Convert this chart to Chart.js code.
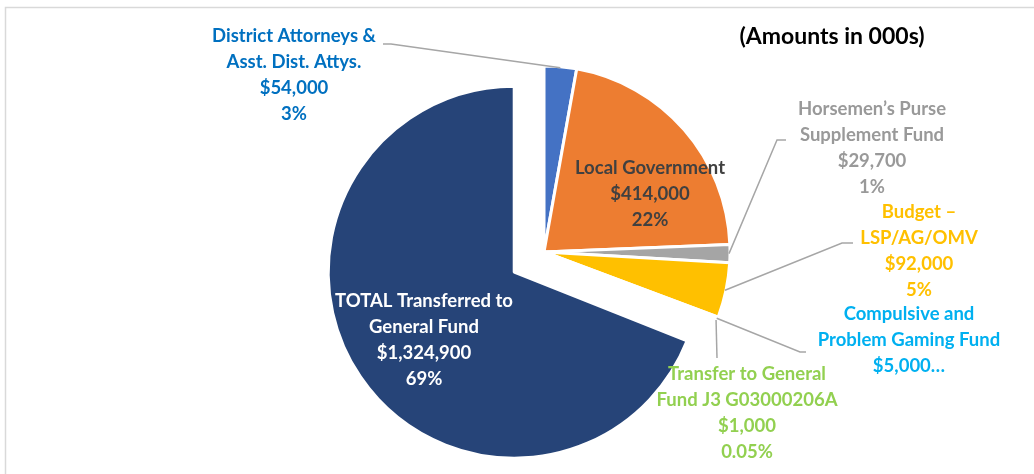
<!DOCTYPE html>
<html>
<head>
    <meta charset='UTF-8'>
    <title>Distribution of Gaming Revenue</title>
    <style>
        html, body { margin: 0; padding: 0; background: #fff; }
        #chart-container { position: relative; width: 1034px; height: 474px; }
    </style>
</head>
<body>
    <script src="https://cdn.jsdelivr.net/npm/chart.js@4.4.1/dist/chart.umd.min.js"></script>
    <div id="chart-container">
        <canvas id="chart" width="1034" height="474"></canvas>
    </div>

    <script>
        // data (amounts in 000s)
        let categories = [
            "District Attorneys & Asst. Dist. Attys.",
            "Local Government",
            "Horsemen\u2019s Purse Supplement Fund",
            "Budget \u2013 LSP/AG/OMV",
            "Compulsive and Problem Gaming Fund",
            "Transfer to General Fund J3 G03000206A",
            "TOTAL Transferred to General Fund"
        ];
        let amounts = [54000, 414000, 29700, 92000, 5000, 1000, 1324900];
        let pctLabels = ["3%", "22%", "1%", "5%", "", "0.05%", "69%"];
        let explode = [0, 0, 0, 0, 0, 0, 36];
        let sliceColors = ["#4472c4", "#ed7d31", "#a5a5a5", "#ffc000", "#5b9bd5", "#70ad47", "#264478"];
        let labelColors = ["#0070c0", "#404040", "#999999", "#ffc000", "#00b0f0", "#92d050", "#ffffff"];

        function money(v) {
            return "$" + v.toLocaleString("en-US");
        }

        // label text lines for each slice
        let labelLines = [
            ["District Attorneys &", "Asst. Dist. Attys.", money(amounts[0]), pctLabels[0]],
            ["Local Government", money(amounts[1]), pctLabels[1]],
            ["Horsemen\u2019s Purse", "Supplement Fund", money(amounts[2]), pctLabels[2]],
            ["Budget \u2013", "LSP/AG/OMV", money(amounts[3]), pctLabels[3]],
            ["Compulsive and", "Problem Gaming Fund", money(amounts[4]) + "\u2026"],
            ["Transfer to General", "Fund J3 G03000206A", money(amounts[5]), pctLabels[5]],
            ["TOTAL Transferred to", "General Fund", money(amounts[6]), pctLabels[6]]
        ];

        // where each label block sits (center x, first line y) and its leader elbow
        let labelPos = [
            { x: 294, y: 36, elbow: [[383, 44], [391, 44]] },
            { x: 650, y: 168 },
            { x: 872, y: 109, elbow: [[786, 140], [777, 140]] },
            { x: 919, y: 212, elbow: [[853, 243], [842, 243]] },
            { x: 909, y: 314, elbow: [[806, 352], [800, 352]] },
            { x: 747, y: 374, elbow: [[717, 358], [717, 358]] },
            { x: 424, y: 301 }
        ];

        const FONT = "bold 18.5px Lato";
        const LINE_H = 26;

        const labelPlugin = {
            id: "labels",
            // pull exploded slices out along their mid angle without growing them
            afterDatasetUpdate(chart) {
                let arcs = chart.getDatasetMeta(0).data;
                arcs.forEach(function(a, i) {
                    if (!explode[i]) return;
                    let mid = (a.startAngle + a.endAngle) / 2;
                    a.x += Math.cos(mid) * explode[i];
                    a.y += Math.sin(mid) * explode[i];
                });
            },
            beforeDraw(chart) {
                let ctx = chart.ctx;
                ctx.save();
                ctx.strokeStyle = "#d9d9d9";
                ctx.lineWidth = 1.5;
                ctx.beginPath();
                ctx.moveTo(5.5, 474);
                ctx.lineTo(5.5, 7.5);
                ctx.lineTo(1034, 7.5);
                ctx.stroke();
                ctx.restore();
            },
            afterDatasetsDraw(chart) {
                let ctx = chart.ctx;
                let arcs = chart.getDatasetMeta(0).data;
                ctx.save();
                // leader lines
                ctx.strokeStyle = "#a6a6a6";
                ctx.lineWidth = 1.5;
                labelPos.forEach(function(p, i) {
                    if (!p.elbow) return;
                    let a = arcs[i];
                    let mid = (a.startAngle + a.endAngle) / 2;
                    let ax = a.x + Math.cos(mid) * (a.outerRadius - 1);
                    let ay = a.y + Math.sin(mid) * (a.outerRadius - 1);
                    ctx.beginPath();
                    ctx.moveTo(p.elbow[0][0], p.elbow[0][1]);
                    ctx.lineTo(p.elbow[1][0], p.elbow[1][1]);
                    ctx.lineTo(ax, ay);
                    ctx.stroke();
                });
                // label text
                ctx.font = FONT;
                ctx.textAlign = "center";
                ctx.textBaseline = "middle";
                labelLines.forEach(function(lines, i) {
                    ctx.fillStyle = labelColors[i];
                    lines.forEach(function(t, k) {
                        ctx.fillText(t, labelPos[i].x, labelPos[i].y + k * LINE_H);
                    });
                });
                ctx.font = "bold 23px Lato";
                ctx.fillStyle = "#000000";
                ctx.fillText("(Amounts in 000s)", 832, 37);
                ctx.restore();
            }
        };

        let context = document.getElementById("chart").getContext("2d");
        let chart = new Chart(context, {
            type: "pie",
            data: {
                labels: categories,
                datasets: [{
                    data: amounts,
                    backgroundColor: sliceColors,
                    borderColor: "#ffffff",
                    borderWidth: 3
                }]
            },
            options: {
                responsive: false,
                animation: false,
                events: [],
                radius: 186,
                layout: { padding: { left: 54, right: 0, top: 30, bottom: 0 } },
                plugins: {
                    legend: { display: false },
                    tooltip: { enabled: false }
                }
            },
            plugins: [labelPlugin]
        });
    </script>
</body>
</html>
